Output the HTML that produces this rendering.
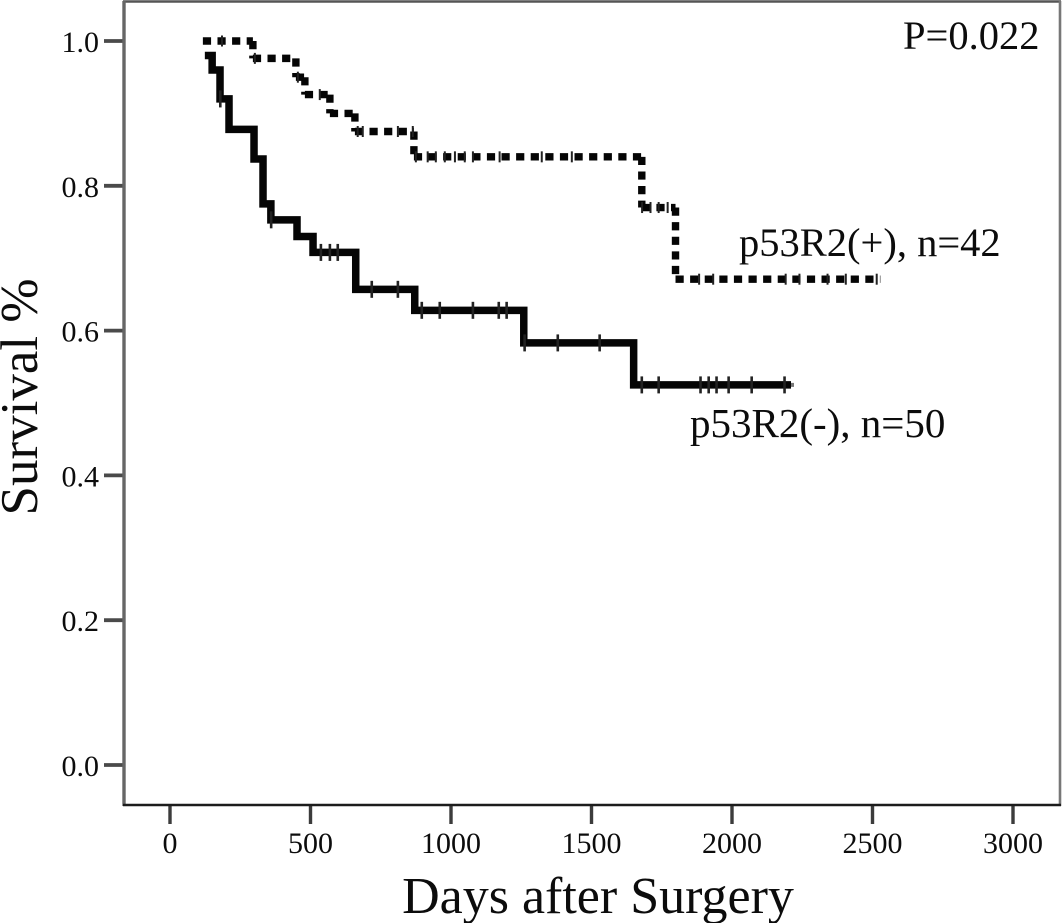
<!DOCTYPE html>
<html lang="en">
<head>
<meta charset="utf-8">
<title>Survival by p53R2 status</title>
<style>
  html, body { margin: 0; padding: 0; background: #fff; }
  svg { display: block; }
  text { font-family: "Liberation Serif", serif; fill: #0c0c0c; }
</style>
</head>
<body>
<svg id="chart" width="1063" height="923" viewBox="0 0 1063 923" xmlns="http://www.w3.org/2000/svg">
  <rect x="0" y="0" width="1063" height="923" fill="#fff"/>
  <g id="ticks"></g>
  <g id="series"></g>
  <line x1="123" y1="1.5" x2="1061" y2="1.5" stroke="#555" stroke-width="2.4"/>
  <line x1="1060" y1="1" x2="1060" y2="806" stroke="#777" stroke-width="2.6"/>
  <line x1="124" y1="1" x2="124" y2="806" stroke="#666" stroke-width="3.4"/>
  <line x1="123" y1="805" x2="1061" y2="805" stroke="#1c1c1c" stroke-width="2.4"/>
  <text x="598" y="913" font-size="52" text-anchor="middle">Days after Surgery</text>
  <text transform="translate(37,397) rotate(-90)" font-size="53" text-anchor="middle">Survival %</text>
  <text x="903" y="49" font-size="40.5">P=0.022</text>
  <text x="739" y="256" font-size="40.5">p53R2(+), n=42</text>
  <text x="690" y="437" font-size="41">p53R2(-), n=50</text>
</svg>
<script>
const xTickValues = [0, 500, 1000, 1500, 2000, 2500, 3000];
const yTickValues = [0.0, 0.2, 0.4, 0.6, 0.8, 1.0];

const posTimes = [117, 295, 448, 480, 569, 658, 868, 1679, 1799];
const posSurvival = [1.0, 0.976, 0.95, 0.926, 0.90, 0.875, 0.84, 0.77, 0.671];
const posEnd = 2528;
const posCensored = [185, 302, 455, 533, 668, 686, 811, 864, 875, 917, 946, 978, 1014, 1049, 1078, 1173, 1323, 1430, 1680, 1710, 1739, 1771, 1883, 1933, 2191, 2240, 2340, 2405, 2515];

const negTimes = [124, 150, 178, 210, 299, 331, 359, 452, 509, 661, 871, 1259, 1650];
const negSurvival = [0.98, 0.96, 0.92, 0.878, 0.837, 0.775, 0.753, 0.73, 0.708, 0.657, 0.628, 0.583, 0.525];
const negEnd = 2210;
const negCensored = [179, 360, 537, 569, 597, 718, 811, 896, 960, 1078, 1170, 1198, 1262, 1380, 1529, 1679, 1739, 1888, 1917, 1945, 1988, 2070, 2187];

const SVG_NS = 'http://www.w3.org/2000/svg';
const xScale = d => 170 + d * (843 / 3000);
const yScale = s => 765 - s * 724;

function stepPath(times, surv, end) {
  let d = 'M' + xScale(times[0]) + ' ' + yScale(surv[0]);
  for (let i = 1; i < times.length; i++) {
    d += 'H' + xScale(times[i]) + 'V' + yScale(surv[i]);
  }
  return d + 'H' + xScale(end);
}
/* Each leg is its own subpath so the dash pattern restarts at every corner. */
function dashedStepPath(times, surv, end) {
  let d = '';
  for (let i = 0; i < times.length; i++) {
    const next = i + 1 < times.length ? times[i + 1] : end;
    d += 'M' + xScale(times[i]) + ' ' + yScale(surv[i]) + 'H' + xScale(next);
    if (i + 1 < times.length) {
      d += 'M' + xScale(next) + ' ' + yScale(surv[i]) + 'V' + yScale(surv[i + 1]);
    }
  }
  return d;
}
function levelAt(times, surv, t) {
  let level = surv[0];
  for (let i = 0; i < times.length; i++) { if (times[i] <= t) level = surv[i]; }
  return level;
}
function line(parent, x1, y1, x2, y2, stroke, width) {
  const el = document.createElementNS(SVG_NS, 'line');
  el.setAttribute('x1', x1);
  el.setAttribute('y1', y1);
  el.setAttribute('x2', x2);
  el.setAttribute('y2', y2);
  el.setAttribute('stroke', stroke);
  el.setAttribute('stroke-width', width);
  parent.appendChild(el);
  return el;
}
function label(parent, x, y, str, anchor) {
  const el = document.createElementNS(SVG_NS, 'text');
  el.setAttribute('x', x);
  el.setAttribute('y', y);
  el.setAttribute('font-size', 30);
  el.setAttribute('text-anchor', anchor);
  el.textContent = str;
  parent.appendChild(el);
  return el;
}

const ticks = document.getElementById('ticks');
xTickValues.forEach(v => {
  const t = line(ticks, xScale(v), 805, xScale(v), 824, '#3c3c3c', 3.4);
  
  
  const l = label(ticks, xScale(v), 853, String(v), 'middle');
  
  
});
yTickValues.forEach(v => {
  const t = line(ticks, 104, yScale(v), 124, yScale(v), '#4a4a4a', 3.8);
  
  
  const l = label(ticks, 99, yScale(v) + 11, v.toFixed(1), 'end');
  
  
});

const series = document.getElementById('series');

const posLine = document.createElementNS(SVG_NS, 'path');


posLine.setAttribute('d', dashedStepPath(posTimes, posSurvival, posEnd));
posLine.setAttribute('fill', 'none');
posLine.setAttribute('stroke', '#050505');
posLine.setAttribute('stroke-width', '7.4');
posLine.setAttribute('stroke-dasharray', '8.2 6.4');
series.appendChild(posLine);

const negLine = document.createElementNS(SVG_NS, 'path');


negLine.setAttribute('d', stepPath(negTimes, negSurvival, negEnd));
negLine.setAttribute('fill', 'none');
negLine.setAttribute('stroke', '#050505');
negLine.setAttribute('stroke-width', '7.5');
negLine.setAttribute('stroke-linejoin', 'miter');
series.appendChild(negLine);

const negTail = line(series, xScale(negEnd), yScale(negSurvival[negSurvival.length - 1]), xScale(negEnd) + 3, yScale(negSurvival[negSurvival.length - 1]), '#777', 4);



posCensored.forEach(t => {
  const y = yScale(levelAt(posTimes, posSurvival, t));
  const m = line(series, xScale(t), y - 5.5, xScale(t), y + 5.5, '#222', 2);
  
  
});
negCensored.forEach(t => {
  const y = yScale(levelAt(negTimes, negSurvival, t));
  const m = line(series, xScale(t), y - 8.5, xScale(t), y + 8.5, '#222', 2.6);
  
  
});
</script>
</body>
</html>
